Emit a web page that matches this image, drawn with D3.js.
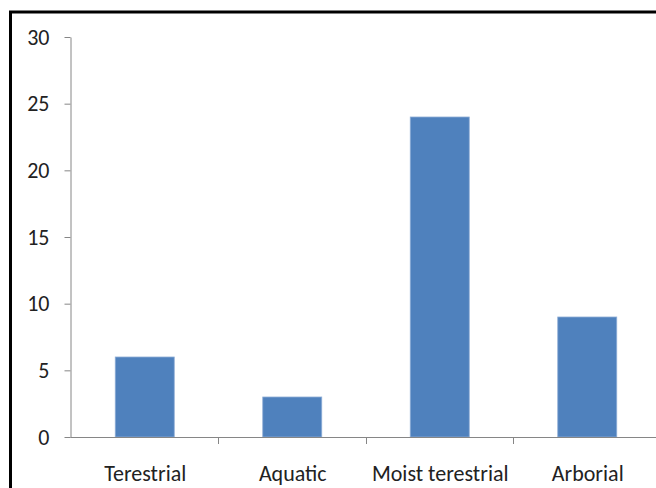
<!DOCTYPE html>
<html>
<head>
<meta charset="utf-8">
<script src="https://cdn.jsdelivr.net/npm/d3@7"></script>
<style>
  html, body { margin: 0; padding: 0; background: #fff; }
  svg { display: block; }
  .lbl { font-family: Carlito, Lato, "Open Sans", sans-serif; font-size: 22px; fill: #222; }
</style>
</head>
<body>
<svg id="chart" width="656" height="488"></svg>
<script>
// Habitat categories and species counts
const categories = ["Terestrial", "Aquatic", "Moist terestrial", "Arborial"];
const counts = [6, 3, 24, 9];
const yTicks = [0, 5, 10, 15, 20, 25, 30];

const svg = d3.select("#chart");
const plot = { left: 70.5, right: 660.5, top: 37, bottom: 437 };
const axisColor = "#868686";
const barColor = "#4F81BD";

// Frame around the chart area
svg.append("rect")
  .attr("x", 10.5).attr("y", 12)
  .attr("width", 700).attr("height", 600)
  .attr("fill", "none").attr("stroke", "#000").attr("stroke-width", 3);

const x = d3.scaleBand().domain(categories).range([plot.left, plot.right]).padding(0);
const y = d3.scaleLinear().domain([0, 30]).range([plot.bottom, plot.top]);

// Bars
const barW = x.bandwidth() * 0.4;
svg.append("g").selectAll("rect")
  .data(categories.map((c, i) => ({ c, v: counts[i] })))
  .join("rect")
  .attr("x", d => x(d.c) + x.bandwidth() / 2 - barW / 2 + 0.5)
  .attr("y", d => y(d.v))
  .attr("width", barW)
  .attr("height", d => y(0) - y(d.v))
  .attr("fill", barColor)
  .attr("stroke", "#8EADD6")
  .attr("stroke-width", 0.8);

// Y axis
const yAxis = svg.append("g")
  .attr("transform", `translate(${plot.left},0)`)
  .call(d3.axisLeft(y).tickValues(yTicks).tickSize(6).tickSizeOuter(0).tickPadding(15));
yAxis.select(".domain").attr("stroke", axisColor);
yAxis.selectAll(".tick line").attr("stroke", axisColor);
yAxis.selectAll(".tick text").attr("class", "lbl").attr("font-size", null).attr("font-family", null);

// X axis with ticks at category boundaries
const bounds = categories.map(c => x(c)).concat([plot.right]);
const xAxis = svg.append("g");
xAxis.append("line")
  .attr("x1", plot.left).attr("x2", plot.right)
  .attr("y1", plot.bottom + 0.5).attr("y2", plot.bottom + 0.5)
  .attr("stroke", axisColor);
xAxis.selectAll("line.tk")
  .data(bounds.slice(1))
  .join("line").attr("class", "tk")
  .attr("x1", d => Math.round(d) + 0.5).attr("x2", d => Math.round(d) + 0.5)
  .attr("y1", plot.bottom).attr("y2", plot.bottom + 7)
  .attr("stroke", axisColor);
xAxis.selectAll("text")
  .data(categories)
  .join("text")
  .attr("class", "lbl")
  .attr("x", d => x(d) + x.bandwidth() / 2 + 1)
  .attr("y", 480.5)
  .attr("text-anchor", "middle")
  .text(d => d);
</script>
</body>
</html>
